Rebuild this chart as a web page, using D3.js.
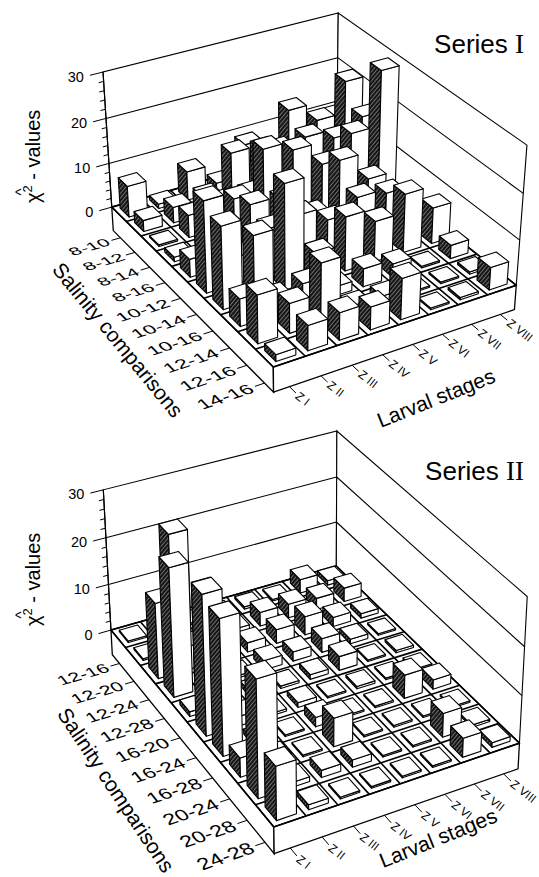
<!DOCTYPE html>
<html><head><meta charset="utf-8">
<script src="https://cdn.jsdelivr.net/npm/d3@7"></script>
<style>body{margin:0;background:#fff}svg{display:block}</style>
</head><body>
<svg id="chart" width="539" height="877"></svg>
<script>
// ---------------- data ----------------
const stages = ["Z I","Z II","Z III","Z IV","Z V","Z VI","Z VII","Z VIII"];
const salinityI  = ["8-10","8-12","8-14","8-16","10-12","10-14","10-16","12-14","12-16","14-16"];
const salinityII = ["12-16","12-20","12-24","12-28","16-20","16-24","16-28","20-24","20-28","24-28"];
const zTicks = [0,10,20,30];
// rows = salinity comparison, columns = larval stage Z I ... Z VIII  (chi-square values)
const valuesI = [
  [7, 1, 6.5, 2, 9, 5, 7, 10],
  [2.5, 3.5, 4, 12, 11, 18, 14, 21],
  [0, 5, 6, 6, 14, 15, 13, 16],
  [1, 3, 10, 19, 17, 12, 17, 29],
  [4, 8, 12, 11, 6, 16, 10, 3],
  [20, 6, 10, 11, 8, 11, 10, 2],
  [18, 14, 23, 6, 12, 9, 13, 8],
  [6, 4, 5, 2, 4, 3, 0, 3],
  [10.5, 6.5, 13, 1.5, 1.5, 0, 0, 0.5],
  [1.5, 5.5, 6, 5, 9, 0, 0.5, 5]
];
const valuesII = [
  [0, 0, 0, 0, 0.5, 0, 3, 1],
  [0, 25, 0.5, 1, 3, 3, 2.5, 3],
  [16, 5, 1, 2, 3, 4, 2, 1],
  [27, 20, 0.5, 2, 2, 3, 1, 0],
  [1, 4, 1, 0.5, 1, 3, 0, 0.5],
  [29, 2, 0.5, 1, 0, 0.5, 0, 0],
  [28, 1, 0, 2, 0, 0, 5, 2],
  [4, 1.5, 0, 6, 0, 0, 0, 0],
  [24, 1, 1.5, 1.5, 0, 0, 5, 0.5],
  [11, 1, 0, 0, 0, 0, 4, 1]
];

// ---------------- layout ----------------
const svg = d3.select("#chart");
const FONT = "'Liberation Sans', Arial, Helvetica, sans-serif";
const defs = svg.append("defs");
const pat = defs.append("pattern").attr("id","hatch").attr("patternUnits","userSpaceOnUse")
  .attr("width",3).attr("height",3).attr("patternTransform","rotate(40)");
pat.append("rect").attr("width",3).attr("height",3).attr("fill","#151515");
pat.append("line").attr("x1",0.5).attr("y1",0).attr("x2",0.5).attr("y2",3).attr("stroke","#8c8c8c").attr("stroke-width",0.75);

// perspective camera fitted (DLT) from frame calibration points: [X,Y,Z, screenX, screenY]
function fitCamera(pts){
  const S=[1,1,1/3], cx=300, cy=400, sc=100;
  const rows=[], rhs=[];
  pts.forEach(([X,Y,Z,u,v])=>{
    X*=S[0]; Y*=S[1]; Z*=S[2]; u=(u-cx)/sc; v=(v-cy)/sc;
    rows.push([X,Y,Z,1,0,0,0,0,-u*X,-u*Y,-u*Z]); rhs.push(u);
    rows.push([0,0,0,0,X,Y,Z,1,-v*X,-v*Y,-v*Z]); rhs.push(v);
  });
  const n=11, M=[];
  for(let i=0;i<n;i++) M.push(new Array(n+1).fill(0));
  rows.forEach((r,k)=>{ for(let i=0;i<n;i++){ for(let j=0;j<n;j++) M[i][j]+=r[i]*r[j]; M[i][n]+=r[i]*rhs[k]; } });
  for(let i=0;i<n;i++) M[i][i]+=1e-9;
  for(let c=0;c<n;c++){
    let piv=c; for(let r=c+1;r<n;r++) if(Math.abs(M[r][c])>Math.abs(M[piv][c])) piv=r;
    const tmp=M[c]; M[c]=M[piv]; M[piv]=tmp;
    for(let r=0;r<n;r++){ if(r===c) continue; const f=M[r][c]/M[c][c]; for(let j=c;j<=n;j++) M[r][j]-=f*M[c][j]; }
  }
  const p=M.map((r,i)=>r[n]/r[i]);
  return (X,Y,Z)=>{ X*=S[0]; Y*=S[1]; Z*=S[2];
    const w=p[8]*X+p[9]*Y+p[10]*Z+1;
    return [(p[0]*X+p[1]*Y+p[2]*Z+p[3])/w*sc+cx, (p[4]*X+p[5]*Y+p[6]*Z+p[7])/w*sc+cy]; };
}

const panels = [
  { values: valuesI, sal: salinityI, numeral: "I", seriesY: 53, yTitleY: 155,
    salTitle: [118,340], larTitle: [436,398],
    calib: [[0,0,0,112,208],[0,0,10,109,163],[0,0,20,106,118],[0,0,30,103,72],
            [8,0,30,338,13],[8,10,30,527,147],[8,10,20,523.5,192],[8,10,10,520,239],[8,10,0,516,286],
            [0,10,0,273,367]] },
  { values: valuesII, sal: salinityII, numeral: "II", seriesY: 480, yTitleY: 578,
    salTitle: [116,790], larTitle: [438,838],
    calib: [[0,0,0,111,630],[0,0,10,108.5,584],[0,0,20,106,538],[0,0,30,103,490],
            [8,0,30,337,431],[8,10,30,527,597],[8,10,20,525,646],[8,10,10,522,695],[8,10,0,519,744],
            [0,10,0,274,827]] }
];

const SLAB = 5.5;       // slab thickness in value units
const MINH = 0.35;      // drawn height of zero bars

panels.forEach(cfg=>{
  const P = fitCamera(cfg.calib);
  const g = svg.append("g");
  const xS = d3.scaleBand().domain(stages).range([0,8]).paddingInner(0.38).paddingOuter(0.19);
  const yS = d3.scaleBand().domain(cfg.sal).range([0,10]).paddingInner(0.38).paddingOuter(0.19);
  const zS = d3.scaleLinear().domain([0,30]).range([0,30]);
  const poly = pts => pts.map(p=>P(...p).map(v=>v.toFixed(2)).join(",")).join(" ");
  const line = (a,b,w)=> g.append("line")
      .attr("x1",P(...a)[0]).attr("y1",P(...a)[1]).attr("x2",P(...b)[0]).attr("y2",P(...b)[1])
      .attr("stroke","#000").attr("stroke-width",w||1.1);
  const zTop = zS(30);

  // walls
  g.append("polygon").attr("points",poly([[0,0,0],[8,0,0],[8,0,zTop],[0,0,zTop]]))
    .attr("fill","#fff").attr("stroke","#000").attr("stroke-width",1.1);
  g.append("polygon").attr("points",poly([[8,0,0],[8,10,0],[8,10,zTop],[8,0,zTop]]))
    .attr("fill","#fff").attr("stroke","#000").attr("stroke-width",1.1);
  zTicks.filter(t=>t>0 && t<30).forEach(t=>{
    line([0,0,zS(t)],[8,0,zS(t)]); line([8,0,zS(t)],[8,10,zS(t)]);
  });
  // vertical axis with ticks
  line([0,0,0],[0,0,zTop],1.2);
  d3.range(0,31,2).forEach(t=>{
    const major = zTicks.includes(t);
    line([0,0,zS(t)],[major?-0.42:-0.16,0,zS(t)],1);
  });
  zTicks.forEach(t=>{
    const q = P(-0.55,0,zS(t));
    g.append("text").attr("x",q[0]-2).attr("y",q[1]).attr("dy","0.36em").attr("text-anchor","end")
      .attr("font-family",FONT).attr("font-size",14.5).text(t);
  });

  // slab
  g.append("polygon").attr("points",poly([[0,0,0],[8,0,0],[8,10,0],[0,10,0]]))
    .attr("fill","#fff").attr("stroke","#000").attr("stroke-width",1.2);
  g.append("polygon").attr("points",poly([[0,0,0],[0,10,0],[0,10,-SLAB],[0,0,-SLAB]]))
    .attr("fill","#fff").attr("stroke","#000").attr("stroke-width",1.3);
  g.append("polygon").attr("points",poly([[0,10,0],[8,10,0],[8,10,-SLAB],[0,10,-SLAB]]))
    .attr("fill","#fff").attr("stroke","#000").attr("stroke-width",1.3);
  d3.range(0,9).forEach(i=>line([i,0,0],[i,10,0],1.6));
  d3.range(0,11).forEach(j=>line([0,j,0],[8,j,0],1.6));

  // bars, back to front
  const cells=[];
  for(let i=stages.length-1;i>=0;i--) for(let j=0;j<cfg.sal.length;j++) cells.push({i,j,v:cfg.values[j][i]});
  const bw = xS.bandwidth(), bh = yS.bandwidth();
  g.selectAll("g.bar").data(cells).join("g").attr("class","bar").each(function(d){
    const x0=xS(stages[d.i]), x1=x0+bw, y0=yS(cfg.sal[d.j]), y1=y0+bh, h=zS(Math.max(d.v,MINH));
    const b=d3.select(this);
    b.append("polygon").attr("points",poly([[x0,y0,0],[x0,y1,0],[x0,y1,h],[x0,y0,h]]))
      .attr("fill","url(#hatch)").attr("stroke","#000").attr("stroke-width",1.1).attr("stroke-linejoin","round");
    b.append("polygon").attr("points",poly([[x0,y1,0],[x1,y1,0],[x1,y1,h],[x0,y1,h]]))
      .attr("fill","#fff").attr("stroke","#000").attr("stroke-width",1.1).attr("stroke-linejoin","round");
    b.append("polygon").attr("points",poly([[x0,y0,h],[x1,y0,h],[x1,y1,h],[x0,y1,h]]))
      .attr("fill","#fff").attr("stroke","#000").attr("stroke-width",1.1).attr("stroke-linejoin","round");
  });

  // salinity ticks + labels (text lying in floor plane)
  const planeM = (A,U,V)=>{ const p0=P(...A), pu=P(A[0]+U[0],A[1]+U[1],A[2]+U[2]), pv=P(A[0]+V[0],A[1]+V[1],A[2]+V[2]);
    return `matrix(${pu[0]-p0[0]},${pu[1]-p0[1]},${pv[0]-p0[0]},${pv[1]-p0[1]},${p0[0]},${p0[1]})`; };
  const k = 0.05;
  cfg.sal.forEach((s,j)=>{
    const yc = yS(s)+bh/2;
    line([0,yc,-SLAB],[-0.3,yc,-SLAB],1);
    g.append("text").attr("transform",planeM([-0.4,yc,-SLAB],[k,0,0],[0,k,0]))
      .attr("text-anchor","end").attr("dy","0.36em").attr("font-family",FONT).attr("font-size",13).text(s);
  });
  // larval stage ticks + labels
  stages.forEach((s,i)=>{
    const xc = xS(s)+bw/2;
    line([xc,10,-SLAB],[xc,10.35,-SLAB],1);
    const q = P(xc,10.42,-SLAB);
    g.append("text").attr("transform",`translate(${q[0]},${q[1]}) rotate(38)`)
      .attr("text-anchor","start").attr("dy","0.36em").attr("font-family",FONT).attr("font-size",12).text(s);
  });

  // axis titles
  const angleOf=(a,b)=>{ const p=P(...a), q=P(...b); return Math.atan2(q[1]-p[1],q[0]-p[0])*180/Math.PI; };
  const sa = angleOf([-2.7,0,-SLAB],[-2.7,10,-SLAB]) + 3;
  g.append("text").attr("transform",`translate(${cfg.salTitle[0]},${cfg.salTitle[1]}) rotate(${sa})`).attr("text-anchor","middle")
    .attr("dy","0.35em").attr("font-family",FONT).attr("font-size",21).text("Salinity comparisons");
  const la = angleOf([0,12.6,-SLAB],[8,12.6,-SLAB]) - 2;
  g.append("text").attr("transform",`translate(${cfg.larTitle[0]},${cfg.larTitle[1]}) rotate(${la})`).attr("text-anchor","middle")
    .attr("dy","0.35em").attr("font-family",FONT).attr("font-size",21).text("Larval stages");

  // y-axis title  chi^2 - values
  const yt = g.append("g").attr("transform",`translate(40,${cfg.yTitleY}) rotate(-90)`);
  const t = yt.append("text").attr("x",-48).attr("font-family",FONT).attr("font-size",20);
  t.append("tspan").text("\u03C7");
  t.append("tspan").attr("dy",-8).attr("font-size",13).text("2");
  t.append("tspan").attr("dy",8).text(" - values");
  yt.append("text").attr("x",-37).attr("y",-14).attr("text-anchor","middle").attr("font-family",FONT).attr("font-size",15).text("^");

  // series label
  const st = g.append("text").attr("x",524).attr("y",cfg.seriesY).attr("text-anchor","end")
    .attr("font-family",FONT).attr("font-size",26);
  st.append("tspan").text("Series ");
  st.append("tspan").attr("font-family","'Liberation Serif', 'Times New Roman', serif").attr("font-size",27).text(cfg.numeral);
});
</script>
</body></html>
